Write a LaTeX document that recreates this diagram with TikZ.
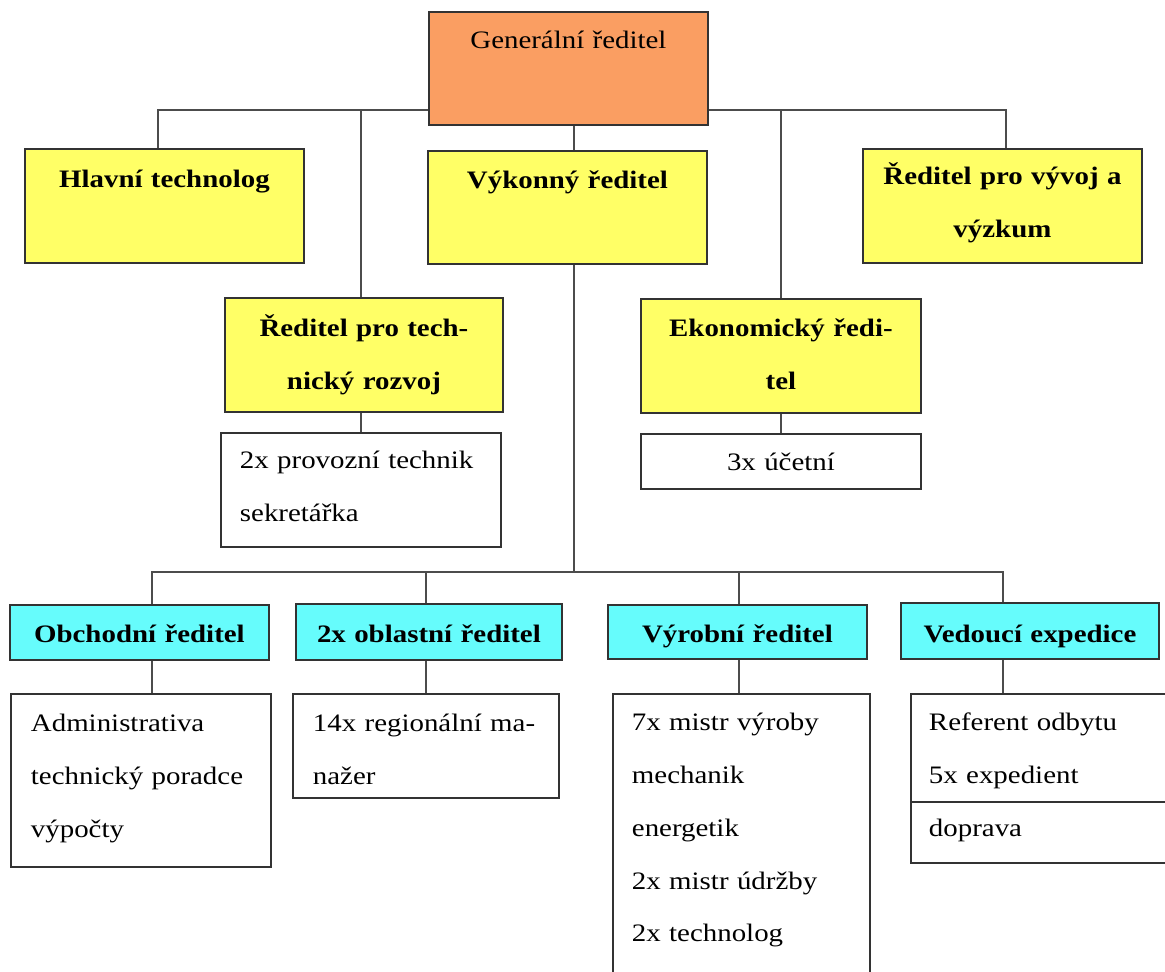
\documentclass[tikz,border=0pt]{standalone}
\usepackage{fontspec}
\setmainfont[FakeStretch=1.15]{Liberation Serif}
\usepackage{tikz}
\definecolor{grOrange}{RGB}{250,158,98}
\definecolor{headYellow}{RGB}{255,255,102}
\definecolor{deptCyan}{RGB}{102,252,252}
\tikzstyle{orgBox} = [rectangle, draw=black!80, line width=1.1pt, anchor=north west, inner ysep=0pt, font=\fontsize{14.3}{30}\selectfont]
\tikzstyle{topBox} = [orgBox, fill=grOrange, inner xsep=0pt, align=center]
\tikzstyle{headBox} = [orgBox, fill=headYellow, inner xsep=0pt, align=center, font=\fontsize{14.3}{30}\selectfont\bfseries]
\tikzstyle{deptBox} = [orgBox, fill=deptCyan, inner xsep=0pt, align=center, font=\fontsize{14.3}{30}\selectfont\bfseries]
\tikzstyle{staffBox} = [orgBox, fill=white, align=left]
\tikzstyle{conn} = [draw=black!70, line width=1.1pt]

\begin{document}
\begin{tikzpicture}[x=0.02cm, y=-0.02cm]
		\useasboundingbox (0,0) rectangle (1165,972);
		\clip (0,0) rectangle (1165,972);
		\coordinate (topbus) at (0,110);
		\coordinate (midbus) at (0,572);
		% vedeni
		\node [topBox, text width=5.58cm, text height=0.74cm, text depth=1.52cm] (gr) at (428,11) {Generální ředitel};
		\node [headBox, text width=5.58cm, text height=0.78cm, text depth=1.50cm] (hlavni) at (24,148) {Hlavní technolog};
		\node [headBox, text width=5.58cm, text height=0.76cm, text depth=1.50cm] (vykon) at (427,150) {Výkonný ředitel};
		\node [headBox, text width=5.58cm, text height=0.72cm, text depth=1.56cm] (vyvoj) at (862,148) {Ředitel pro vývoj a\\výzkum};
		\node [headBox, text width=5.56cm, text height=0.78cm, text depth=1.50cm] (tech) at (224,297) {Ředitel pro tech-\\nický rozvoj};
		\node [headBox, text width=5.60cm, text height=0.76cm, text depth=1.52cm] (ekon) at (640,298) {Ekonomický ředi-\\tel};
		\node [staffBox, inner xsep=0pt, align=center, text width=5.60cm, text height=0.74cm, text depth=0.36cm] (ucetni) at (640,433) {3x účetní};
		\node [staffBox, inner xsep=0.38cm, text width=4.84cm, text height=0.72cm, text depth=1.56cm] (techsub) at (220,432) {2x provozní technik\\sekretářka};
		% useky
		\node [deptBox, text width=5.18cm, text height=0.76cm, text depth=0.34cm] (obch) at (9,604) {Obchodní ředitel};
		\node [deptBox, text width=5.32cm, text height=0.78cm, text depth=0.34cm] (obl) at (295,603) {2x oblastní ředitel};
		\node [deptBox, text width=5.18cm, text height=0.76cm, text depth=0.32cm] (vyrob) at (607,604) {Výrobní ředitel};
		\node [deptBox, text width=5.16cm, text height=0.80cm, text depth=0.32cm] (vedou) at (900,602) {Vedoucí expedice};
		\node [staffBox, inner xsep=0.40cm, text width=4.40cm, text height=0.76cm, text depth=2.70cm] (obchsub) at (10,693) {Administrativa\\technický poradce\\výpočty};
		\node [staffBox, inner xsep=0.40cm, text width=4.52cm, text height=0.76cm, text depth=1.32cm] (oblsub) at (292,693) {14x regionální ma-\\nažer};
		\node [staffBox, inner xsep=0.38cm, text width=4.38cm, text height=0.74cm, text depth=5.40cm] (vyrsub) at (612,693) {7x mistr výroby\\mechanik\\energetik\\2x mistr údržby\\2x technolog};
		\node [staffBox, inner xsep=0.36cm, text width=4.58cm, text height=0.74cm, text depth=2.64cm] (vedsub) at (910,693) {Referent odbytu\\5x expedient\\doprava};
		\draw [draw=black!80, line width=1.1pt] (vedsub.west |- 0,802) -- (vedsub.east |- 0,802);
		% spoje
		\draw [conn] (158,0 |- hlavni.north) |- (gr.west |- topbus);
		\draw [conn] (361,0 |- tech.north) -- (361,0 |- topbus);
		\draw [conn] (gr.east |- topbus) -| (1006,0 |- vyvoj.north);
		\draw [conn] (781,0 |- ekon.north) -- (781,0 |- topbus);
		\draw [conn] (574,0 |- gr.south) -- (574,0 |- vykon.north);
		\draw [conn] (574,0 |- vykon.south) -- (574,0 |- midbus);
		\draw [conn] (152,0 |- obch.north) |- (1003,0 |- midbus) -- (1003,0 |- vedou.north);
		\draw [conn] (426,0 |- obl.north) -- (426,0 |- midbus);
		\draw [conn] (739,0 |- vyrob.north) -- (739,0 |- midbus);
		\draw [conn] (361,0 |- tech.south) -- (361,0 |- techsub.north);
		\draw [conn] (781,0 |- ekon.south) -- (781,0 |- ucetni.north);
		\draw [conn] (152,0 |- obch.south) -- (152,0 |- obchsub.north);
		\draw [conn] (426,0 |- obl.south) -- (426,0 |- oblsub.north);
		\draw [conn] (739,0 |- vyrob.south) -- (739,0 |- vyrsub.north);
		\draw [conn] (1003,0 |- vedou.south) -- (1003,0 |- vedsub.north);
\end{tikzpicture}
\end{document}
